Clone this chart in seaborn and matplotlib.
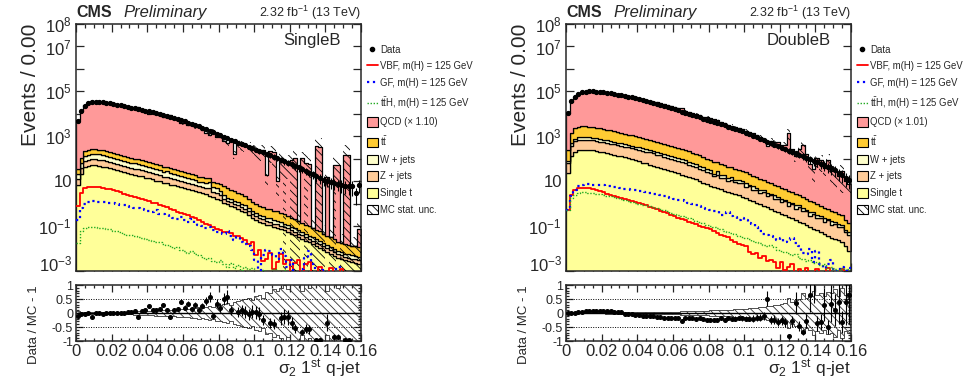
"""
Два распределения sigma_2 первой q-струи (SingleB / DoubleB):
стек фонов, сигналы, данные и отношение Data / MC - 1.
"""
import numpy as np
import pandas as pd
import matplotlib
matplotlib.use('Agg')  # без дисплея
import matplotlib.pyplot as plt
from matplotlib.lines import Line2D
from matplotlib.patches import Patch
from matplotlib.ticker import MultipleLocator, FixedLocator, FuncFormatter
import seaborn as sns

# Значения бинов записаны как log10(число событий), прочитаны с лог-оси; None - пустой бин
N_BINS = 80
X_MIN, X_MAX = 0.0, 0.16

# ---------------- SingleB ----------------
sb_data = [3.66, 4.12, 4.36, 4.47, 4.52, 4.53, 4.52, 4.51, 4.49, 4.46,
           4.44, 4.41, 4.38, 4.35, 4.31, 4.28, 4.25, 4.21, 4.18, 4.14,
           4.11, 4.07, 4.03, 3.99, 3.95, 3.91, 3.86, 3.81, 3.77, 3.72,
           3.66, 3.61, 3.56, 3.50, 3.44, 3.38, 3.31, 3.25, 3.18, 3.11,
           3.04, 2.97, 2.91, 2.85, 2.79, 2.72, 2.66, 2.60, 2.53, 2.47,
           2.41, 2.35, 2.28, 2.22, 2.16, 2.09, 2.03, 1.96, 1.89, 1.83,
           1.76, 1.69, 1.61, 1.54, 1.46, 1.38, 1.30, 1.22, 1.14, 1.07,
           1.02, 0.96, 0.92, 0.88, 0.84, 0.80, 0.77, 0.78, 0.48, 0.85]
sb_qcd = [3.70, 4.13, 4.38, 4.47, 4.59, 4.52, 4.52, 4.52, 4.48, 4.46,
          4.43, 4.41, 4.37, 4.34, 4.29, 4.26, 4.22, 4.28, 4.15, 4.10,
          4.01, 4.02, 3.99, 3.93, 3.84, 3.86, 3.93, 3.77, 3.71, 3.57,
          3.58, 3.48, 3.50, 3.39, 3.40, 3.28, 3.15, 3.05, 3.23, 2.98,
          2.96, 2.79, 2.71, 2.81, 2.20, 2.70, 2.62, 2.58, 2.55, 2.45,
          2.40, 2.36, 2.40, 1.25, 2.35, 2.30, 1.00, 2.05, 1.95, 1.90,
          1.95, 2.03, None, 2.03, 1.81, 1.75, None, 2.55, 2.50, None,
          1.20, None, 1.73, 1.70, None, 2.18, 2.15, None, None, -1.20]
sb_tt = [1.15, 1.65, 1.93, 2.00, 2.02, 2.02, 2.01, 1.97, 1.93, 1.89,
         1.85, 1.81, 1.77, 1.73, 1.69, 1.65, 1.61, 1.57, 1.53, 1.48,
         1.44, 1.40, 1.35, 1.31, 1.26, 1.22, 1.17, 1.13, 1.09, 1.04,
         1.00, 0.96, 0.91, 0.87, 0.82, 0.78, 0.73, 0.68, 0.60, 0.53,
         0.55, 0.55, 0.50, 0.40, 0.35, 0.25, 0.22, 0.10, 0.00, -0.15,
         -0.20, -0.30, -0.35, -0.45, -0.45, -0.55, -0.55, -0.60, -0.70, -0.75,
         -0.85, -0.90, -1.00, -1.05, -1.15, -1.20, -1.30, -1.40, -1.45, -1.55,
         -1.65, -1.70, -1.80, -1.90, -1.95, -2.00, -2.05, -2.10, -2.10, -2.15]
sb_wjets = [0.94, 1.44, 1.72, 1.79, 1.81, 1.81, 1.80, 1.76, 1.72, 1.68,
            1.64, 1.60, 1.56, 1.52, 1.48, 1.44, 1.40, 1.36, 1.32, 1.27,
            1.23, 1.19, 1.14, 1.10, 1.05, 1.12, 0.96, 0.92, 0.88, 0.83,
            0.79, 0.75, 0.70, 0.66, 0.50, 0.57, 0.52, 0.62, 0.39, 0.32,
            0.10, -0.15, -0.30, -0.30, -0.45, -0.50, -0.55, -0.65, -0.75, -0.85,
            -1.00, -1.00, -1.10, -1.20, -1.20, -1.30, -1.35, -1.35, -1.45, -1.50,
            -1.60, -1.65, -1.75, -1.80, -1.90, -2.00, -2.05, -2.15, -2.20, -2.30,
            -2.40, -2.50, -2.55, -2.65, -2.75, -2.80, -2.80, -2.85, -2.90, -2.90]
sb_zjets = [0.77, 1.27, 1.55, 1.62, 1.64, 1.64, 1.63, 1.59, 1.55, 1.51,
            1.47, 1.43, 1.39, 1.35, 1.31, 1.27, 1.23, 1.19, 1.15, 1.10,
            1.06, 1.02, 0.97, 0.98, 0.80, 0.84, 0.79, 0.75, 0.71, 0.66,
            0.62, 0.58, 0.53, 0.49, 0.44, 0.40, 0.35, 0.45, 0.10, 0.15,
            0.00, -0.25, -0.40, -0.42, -0.55, -0.55, -0.70, -0.70, -0.85, -1.00,
            -1.05, -1.20, -1.20, -1.30, -1.30, -1.45, -1.40, -1.50, -1.55, -1.60,
            -1.70, -1.75, -1.85, -1.90, -2.00, -2.10, -2.15, -2.25, -2.30, -2.40,
            -2.50, -2.55, -2.65, -2.75, -2.80, -2.90, -2.90, -2.95, -3.00, -3.00]
sb_singlet = [0.83, 1.33, 1.61, 1.68, 1.70, 1.70, 1.69, 1.65, 1.61, 1.57,
              1.53, 1.49, 1.45, 1.41, 1.37, 1.33, 1.29, 1.25, 1.21, 1.16,
              1.12, 1.08, 1.03, 0.99, 0.94, 0.90, 0.85, 0.81, 0.77, 0.72,
              0.68, 0.64, 0.59, 0.55, 0.50, 0.46, 0.41, 0.36, 0.28, 0.21,
              0.14, 0.04, -0.03, -0.10, -0.17, -0.24, -0.31, -0.39, -0.50, -0.63,
              -0.73, -0.80, -0.87, -0.93, -0.97, -1.03, -1.08, -1.13, -1.18, -1.25,
              -1.33, -1.41, -1.49, -1.57, -1.65, -1.73, -1.81, -1.89, -1.97, -2.05,
              -2.14, -2.23, -2.32, -2.41, -2.47, -2.53, -2.57, -2.61, -2.64, -2.67]
sb_vbf = [-0.09, 0.47, 0.68, 0.74, 0.75, 0.74, 0.72, 0.70, 0.67, 0.64,
          0.61, 0.57, 0.52, 0.45, 0.40, 0.36, 0.31, 0.26, 0.21, 0.16,
          0.12, 0.05, 0.02, -0.04, -0.10, -0.16, -0.22, -0.30, -0.38, -0.41,
          -0.45, -0.52, -0.58, -0.66, -0.72, -0.80, -0.90, -0.96, -1.02, -1.13,
          -1.18, -1.25, -1.25, -1.32, -1.42, -1.45, -1.55, -1.62, -1.78, -1.70,
          -2.30, -2.05, -2.55, -2.48, -2.20, -2.90, -2.60, -2.25, -2.70, -2.50,
          -3.30, -2.65, -2.50, -3.50, -2.70, -2.60, -3.30, None, -2.80, None,
          -3.30, -2.85, None, None, -2.90, None, None, None, None, None]
sb_gf = [-0.71, -0.19, 0.00, 0.08, 0.10, 0.10, 0.09, 0.08, 0.06, 0.04,
         0.02, 0.00, -0.04, -0.07, -0.10, -0.14, -0.18, -0.20, -0.26, -0.28,
         -0.33, -0.36, -0.30, -0.44, -0.48, -0.52, -0.58, -0.62, -0.68, -0.60,
         -0.75, -0.82, -0.70, -0.88, -0.95, -0.98, -1.08, -1.05, -1.18, -1.25,
         -1.30, -1.35, -1.20, -1.45, -1.60, -1.50, -1.72, -1.80, -1.90, -2.05,
         -2.50, -3.50, -2.30, -2.05, -2.10, -2.30, -2.45, -2.00, -2.35, -2.80,
         -2.50, None, -3.30, -2.90, -2.40, -2.10, -2.70, -3.40, None, -2.95,
         None, None, None, -2.80, None, None, None, None, None, None]
sb_tth = [-1.75, -1.23, -1.08, -1.04, -1.03, -1.05, -1.07, -1.10, -1.12, -1.15,
          -1.20, -1.22, -1.28, -1.33, -1.38, -1.40, -1.45, -1.50, -1.52, -1.58,
          -1.62, -1.65, -1.72, -1.70, -1.80, -1.85, -1.90, -1.98, -1.95, -2.05,
          -2.12, -2.18, -2.10, -2.25, -2.30, -2.38, -2.45, -2.40, -2.55, -2.60,
          -2.50, -2.70, -2.80, -2.65, -2.85, -2.75, -2.95, -2.80, -2.90, -2.85,
          None, None, -2.95, None, None, -2.90, None, None, -2.95, None,
          None, None, None, None, None, None, None, None, None, None,
          None, None, None, None, None, None, None, None, None, None]
# относительные ошибки данных и MC stat. unc.
sb_data_err = [0.04, 0.02, 0.015, 0.015, 0.015, 0.015, 0.015, 0.015, 0.015, 0.02,
               0.02, 0.02, 0.02, 0.025, 0.025, 0.025, 0.03, 0.03, 0.03, 0.035,
               0.035, 0.04, 0.04, 0.045, 0.045, 0.05, 0.05, 0.055, 0.06, 0.065,
               0.07, 0.075, 0.08, 0.085, 0.09, 0.095, 0.10, 0.11, 0.12, 0.13,
               0.13, 0.14, 0.15, 0.16, 0.17, 0.18, 0.19, 0.20, 0.21, 0.22,
               0.23, 0.24, 0.25, 0.26, 0.27, 0.28, 0.29, 0.30, 0.31, 0.32,
               0.33, 0.34, 0.35, 0.36, 0.37, 0.38, 0.40, 0.42, 0.44, 0.46,
               0.48, 0.50, 0.52, 0.54, 0.56, 0.58, 0.60, 0.62, 0.70, 0.60]
sb_mc_unc = [0.06, 0.04, 0.03, 0.03, 0.03, 0.03, 0.03, 0.03, 0.03, 0.03,
             0.04, 0.04, 0.04, 0.05, 0.05, 0.05, 0.06, 0.06, 0.07, 0.07,
             0.08, 0.08, 0.09, 0.10, 0.10, 0.11, 0.12, 0.12, 0.13, 0.14,
             0.15, 0.16, 0.17, 0.18, 0.20, 0.18, 0.22, 0.25, 0.22, 0.28,
             0.30, 0.32, 0.35, 0.30, 0.40, 0.42, 0.45, 0.50, 0.55, 0.45,
             0.60, 0.65, 0.55, 0.75, 0.70, 0.85, 0.80, 0.90, 1.00, 0.85,
             1.10, 1.30, 1.50, 0.80, 1.40, 0.90, 1.50, 1.80, 1.60, 1.50,
             0.80, 1.50, 1.60, 0.90, 1.50, 1.70, 1.60, 1.50, 1.50, 1.20]

# ---------------- DoubleB ----------------
db_data = [4.03, 4.55, 4.77, 4.89, 4.95, 4.98, 5.00, 5.00, 4.99, 4.98,
           4.96, 4.94, 4.92, 4.89, 4.86, 4.83, 4.80, 4.77, 4.74, 4.71,
           4.65, 4.61, 4.57, 4.53, 4.49, 4.45, 4.40, 4.35, 4.30, 4.25,
           4.20, 4.15, 4.10, 4.05, 4.00, 3.95, 3.90, 3.84, 3.78, 3.73,
           3.68, 3.63, 3.58, 3.53, 3.48, 3.43, 3.38, 3.33, 3.28, 3.22,
           3.16, 3.10, 3.03, 2.96, 2.89, 2.82, 2.75, 2.68, 2.61, 2.55,
           2.49, 2.43, 2.36, 2.30, 2.24, 2.18, 2.12, 2.05, 1.98, 1.92,
           1.85, 1.78, 1.72, 1.65, 1.58, 1.50, 1.35, 1.28, 1.15, 1.07]
db_qcd = [4.02, 4.53, 4.75, 4.86, 4.92, 4.94, 4.96, 4.96, 4.95, 4.94,
          4.92, 4.90, 4.88, 4.86, 4.83, 4.81, 4.80, 4.78, 4.75, 4.73,
          4.68, 4.66, 4.61, 4.57, 4.54, 4.51, 4.46, 4.43, 4.37, 4.33,
          4.28, 4.23, 4.24, 4.12, 4.07, 4.03, 3.99, 3.92, 3.87, 3.84,
          3.80, 3.75, 3.70, 3.61, 3.60, 3.50, 3.47, 3.42, 3.36, 3.30,
          3.25, 3.19, 3.12, 3.03, 2.96, 2.86, 2.56, 2.80, 2.72, 2.72,
          2.62, 2.60, 3.14, 2.45, 2.10, 2.45, 2.62, 2.20, 1.75, 1.55,
          2.05, 1.95, 1.60, 1.95, 1.45, 1.45, 1.20, 1.45, 1.00, 0.85]
db_tt = [2.22, 2.97, 3.19, 3.26, 3.27, 3.27, 3.26, 3.24, 3.21, 3.18,
         3.15, 3.12, 3.08, 3.05, 3.01, 2.97, 2.93, 2.89, 2.85, 2.81,
         2.77, 2.73, 2.69, 2.65, 2.60, 2.56, 2.52, 2.47, 2.43, 2.38,
         2.34, 2.29, 2.24, 2.19, 2.14, 2.09, 2.03, 1.96, 1.89, 1.82,
         1.73, 1.70, 1.64, 1.60, 1.54, 1.50, 1.44, 1.40, 1.34, 1.28,
         1.22, 1.16, 1.08, 1.02, 0.94, 0.88, 0.80, 0.74, 0.66, 0.60,
         0.52, 0.46, 0.38, 0.32, 0.24, 0.18, 0.10, 0.02, -0.06, -0.14,
         -0.22, -0.30, -0.38, -0.46, -0.54, -0.58, -0.62, -0.70, -0.90, -1.10]
db_wjets = [1.25, 2.05, 2.27, 2.33, 2.34, 2.34, 2.33, 2.31, 2.28, 2.25,
            2.22, 2.19, 2.15, 2.12, 2.08, 2.04, 2.00, 1.96, 1.92, 1.88,
            1.90, 1.86, 1.82, 1.78, 1.74, 1.70, 1.66, 1.62, 1.58, 1.52,
            1.48, 1.44, 1.38, 1.33, 1.28, 1.22, 1.16, 1.08, 1.00, 0.92,
            0.90, 0.55, 0.95, 0.60, 0.70, 0.45, 0.65, 0.30, 0.50, 0.20,
            0.35, 0.05, 0.25, -0.10, 0.10, -0.25, 0.00, -0.40, -0.15, -0.50,
            -0.30, -0.65, -0.40, -0.80, -0.55, -0.95, -0.70, -1.10, -0.85, -1.20,
            -1.00, -1.35, -1.10, -1.50, -1.30, -1.60, -1.45, -1.70, -1.80, -1.90]
db_zjets = [1.60, 2.38, 2.58, 2.64, 2.65, 2.65, 2.64, 2.62, 2.59, 2.56,
            2.54, 2.51, 2.48, 2.45, 2.42, 2.39, 2.36, 2.33, 2.30, 2.27,
            2.25, 2.21, 2.17, 2.13, 2.09, 2.04, 2.00, 1.95, 1.90, 1.86,
            1.80, 1.76, 1.70, 1.65, 1.60, 1.55, 1.49, 1.42, 1.35, 1.28,
            1.22, 1.05, 1.15, 1.00, 1.02, 0.85, 0.92, 0.80, 0.75, 0.80,
            0.60, 0.65, 0.45, 0.50, 0.30, 0.40, 0.15, 0.25, 0.05, 0.10,
            -0.10, 0.00, -0.25, -0.15, -0.40, -0.25, -0.50, -0.45, -0.70, -0.55,
            -0.80, -0.75, -0.95, -0.85, -1.10, -1.00, -1.20, -1.15, -1.40, -1.50]
db_singlet = [1.35, 2.10, 2.32, 2.39, 2.40, 2.40, 2.39, 2.37, 2.34, 2.31,
              2.28, 2.25, 2.21, 2.18, 2.14, 2.10, 2.06, 2.02, 1.98, 1.94,
              1.88, 1.83, 1.79, 1.74, 1.69, 1.64, 1.60, 1.55, 1.50, 1.45,
              1.40, 1.35, 1.29, 1.24, 1.19, 1.14, 1.08, 1.01, 0.94, 0.86,
              0.78, 0.73, 0.68, 0.63, 0.57, 0.52, 0.47, 0.42, 0.37, 0.31,
              0.25, 0.18, 0.11, 0.04, -0.03, -0.10, -0.17, -0.24, -0.31, -0.38,
              -0.45, -0.52, -0.59, -0.66, -0.73, -0.80, -0.87, -0.95, -1.03, -1.11,
              -1.19, -1.27, -1.35, -1.43, -1.51, -1.58, -1.62, -1.70, -1.90, -2.10]
db_vbf = [-0.27, 0.40, 0.62, 0.70, 0.71, 0.70, 0.68, 0.65, 0.62, 0.58,
          0.50, 0.45, 0.40, 0.34, 0.28, 0.24, 0.20, 0.15, 0.11, 0.06,
          0.02, -0.03, -0.08, -0.13, -0.19, -0.25, -0.31, -0.38, -0.42, -0.50,
          -0.55, -0.62, -0.68, -0.74, -0.80, -0.86, -0.92, -0.98, -1.05, -1.10,
          -1.15, -1.22, -1.30, -1.38, -1.45, -1.48, -1.60, -1.70, -1.80, -1.85,
          -1.90, -2.15, -2.25, -2.20, -2.40, -2.35, -2.55, -2.50, -2.60, -2.85,
          -2.60, -2.95, -2.80, -2.70, -3.40, -2.90, None, -2.85, None, -3.50,
          -2.90, None, None, -2.85, None, None, None, -2.90, None, None]
db_gf = [-0.27, 0.33, 0.62, 0.80, 0.84, 0.86, 0.86, 0.85, 0.84, 0.83,
         0.81, 0.79, 0.77, 0.75, 0.72, 0.70, 0.67, 0.64, 0.62, 0.60,
         0.57, 0.55, 0.52, 0.48, 0.45, 0.42, 0.38, 0.34, 0.30, 0.27,
         0.22, 0.18, 0.14, 0.10, 0.05, 0.00, -0.05, -0.12, -0.18, -0.25,
         -0.30, -0.33, -0.35, -0.50, -0.52, -0.38, -0.55, -0.60, -0.72, -0.65,
         -0.75, -0.85, -0.90, -1.05, -1.20, -1.35, -1.40, -1.45, -1.48, -1.60,
         -1.55, -1.70, -1.60, -1.55, -1.75, -1.90, -2.20, -2.25, -2.00, -2.60,
         -2.10, -2.70, -3.40, -2.70, -2.50, -2.90, None, -2.80, -3.50, -2.85]
db_tth = [-0.27, 0.25, 0.40, 0.47, 0.50, 0.50, 0.49, 0.47, 0.45, 0.42,
          0.39, 0.36, 0.32, 0.28, 0.24, 0.20, 0.16, 0.12, 0.08, 0.04,
          0.00, -0.04, -0.08, -0.12, -0.16, -0.20, -0.25, -0.30, -0.35, -0.40,
          -0.44, -0.49, -0.54, -0.59, -0.64, -0.70, -0.76, -0.82, -0.88, -0.95,
          -1.00, -1.05, -1.10, -1.15, -1.20, -1.25, -1.30, -1.35, -1.42, -1.48,
          -1.52, -1.58, -1.65, -1.70, -1.75, -1.82, -1.88, -1.85, -1.95, -2.05,
          -2.10, -2.15, -2.20, -2.30, -2.25, -2.40, -2.45, -2.55, -2.50, -2.65,
          -2.60, -2.75, -2.70, -2.85, -2.80, -2.90, -2.95, -2.85, None, -2.90]
db_data_err = [0.02, 0.01, 0.01, 0.01, 0.01, 0.01, 0.01, 0.01, 0.01, 0.01,
               0.01, 0.01, 0.012, 0.012, 0.012, 0.014, 0.014, 0.015, 0.016, 0.017,
               0.018, 0.019, 0.02, 0.021, 0.022, 0.024, 0.026, 0.028, 0.03, 0.032,
               0.034, 0.036, 0.038, 0.04, 0.043, 0.046, 0.05, 0.053, 0.056, 0.06,
               0.063, 0.066, 0.07, 0.075, 0.08, 0.085, 0.09, 0.095, 0.10, 0.11,
               0.12, 0.13, 0.14, 0.15, 0.16, 0.17, 0.18, 0.19, 0.20, 0.21,
               0.22, 0.24, 0.26, 0.28, 0.30, 0.32, 0.34, 0.36, 0.38, 0.40,
               0.42, 0.44, 0.46, 0.48, 0.50, 0.52, 0.55, 0.58, 0.60, 0.62]
db_mc_unc = [0.04, 0.02, 0.015, 0.015, 0.015, 0.015, 0.015, 0.015, 0.015, 0.015,
             0.015, 0.02, 0.02, 0.02, 0.02, 0.02, 0.02, 0.025, 0.025, 0.025,
             0.03, 0.03, 0.03, 0.035, 0.035, 0.04, 0.04, 0.04, 0.045, 0.05,
             0.05, 0.05, 0.06, 0.06, 0.065, 0.07, 0.07, 0.075, 0.08, 0.085,
             0.09, 0.09, 0.10, 0.10, 0.11, 0.12, 0.12, 0.13, 0.14, 0.15,
             0.16, 0.17, 0.18, 0.19, 0.20, 0.22, 0.24, 0.26, 0.28, 0.30,
             0.33, 0.36, 0.55, 0.40, 0.45, 0.50, 0.70, 0.55, 0.60, 0.80,
             0.65, 0.70, 0.60, 0.75, 0.70, 0.85, 0.60, 0.90, 0.65, 0.70]

PROCS = ['QCD', 'ttbar', 'W + jets', 'Z + jets', 'Single t']
COLORS = {'QCD': '#ff9999', 'ttbar': '#ffcc33', 'W + jets': '#ffffcc',
          'Z + jets': '#ffcc99', 'Single t': '#ffff99'}

sns.set_style('ticks')
plt.rcParams['font.family'] = ['Liberation Sans', 'DejaVu Sans']
plt.rcParams['mathtext.fontset'] = 'custom'
plt.rcParams['mathtext.rm'] = 'Liberation Sans'
plt.rcParams['mathtext.it'] = 'Liberation Sans:italic'
plt.rcParams['mathtext.bf'] = 'Liberation Sans:bold'
plt.rcParams['mathtext.default'] = 'regular'
plt.rcParams['hatch.linewidth'] = 0.6
plt.rcParams['axes.linewidth'] = 1.1

edges = np.linspace(X_MIN, X_MAX, N_BINS + 1)
centers = 0.5 * (edges[:-1] + edges[1:])
bin_list = edges.tolist()


def lin(vals):
    # log10 -> число событий, пустые бины -> 0
    return np.array([0.0 if v is None else 10.0 ** v for v in vals])


def ext(a):
    return np.append(a, a[-1])


Y_LABELS = {8: '$10^{8}$', 7: '$10^{7}$', 5: '$10^{5}$', 3: '$10^{3}$',
            1: '10', -1: '$10^{-1}$', -3: '$10^{-3}$'}


def style_axes(ax):
    ax.tick_params(which='both', direction='in', top=True, right=True, width=0.9)
    ax.tick_params(which='major', length=6)
    ax.tick_params(which='minor', length=3)
    ax.xaxis.set_major_locator(MultipleLocator(0.02))
    ax.xaxis.set_minor_locator(MultipleLocator(0.005))
    ax.set_xlim(X_MIN, X_MAX)


def draw_panel(ax, rax, data, qcd, tt, wjets, zjets, singlet, vbf, gf, tth,
               data_err, mc_unc, qcd_label, region):
    comps = [lin(qcd), lin(tt), lin(wjets), lin(zjets), lin(singlet)]
    stack = pd.DataFrame({'x': np.tile(centers, len(PROCS)),
                          'w': np.concatenate(comps),
                          'proc': np.repeat(PROCS, N_BINS)})
    sns.histplot(data=stack, x='x', weights='w', hue='proc', hue_order=PROCS,
                 multiple='stack', bins=bin_list, element='step', palette=COLORS,
                 edgecolor='black', linewidth=0.9, alpha=1, legend=False, ax=ax)

    total = np.sum(comps, axis=0)
    unc = np.array(mc_unc)
    lo = np.clip(total * (1 - unc), 1e-6, None)
    hi = total * (1 + unc)
    ax.fill_between(edges, ext(lo), ext(hi), step='post', facecolor='none',
                    edgecolor='black', hatch='\\\\\\\\', linewidth=0, zorder=3)

    for vals, col, ls, lw in [(vbf, 'red', '-', 1.3), (gf, 'blue', ':', 1.6),
                              (tth, '#22aa22', (0, (1, 1.2)), 1.0)]:
        sig = pd.DataFrame({'x': centers, 'w': lin(vals)})
        sns.histplot(data=sig, x='x', weights='w', bins=bin_list, element='step',
                     fill=False, color=col, linestyle=ls, linewidth=lw, ax=ax,
                     zorder=4)

    counts = lin(data)
    derr = np.array(data_err)
    has = counts > 0
    ax.errorbar(centers[has], counts[has], yerr=(derr * counts)[has], fmt='o',
                ms=2.8, color='black', elinewidth=0.8, capsize=0, zorder=5)

    ax.set_yscale('log')
    ax.set_ylim(1e-3, 1e8)
    style_axes(ax)
    ax.yaxis.set_major_locator(FixedLocator(10.0 ** np.arange(-3, 9)))
    ax.yaxis.set_minor_locator(FixedLocator([]))
    ax.yaxis.set_major_formatter(
        FuncFormatter(lambda v, p: Y_LABELS.get(int(round(np.log10(v))), '')))
    ax.tick_params(axis='y', labelsize=12, pad=3)
    ax.tick_params(axis='x', labelbottom=False)
    # нижнюю подпись 10^-3 чуть приподнимаем, чтобы не налезала на шкалу отношения
    ax.yaxis.get_major_ticks()[0].label1.set_va('baseline')
    ax.set_xlabel('')
    ax.set_ylabel('Events / 0.00', fontsize=15, loc='top')
    ax.yaxis.set_label_coords(-0.125, 1.0)
    ax.text(0.93, 0.965, region, transform=ax.transAxes, ha='right', va='top',
            fontsize=12)

    # отношение Data / MC - 1
    rax.fill_between(edges, ext(-unc), ext(unc), step='post', facecolor='none',
                     edgecolor='0.2', hatch='\\\\\\\\', linewidth=0.6)
    rax.axhline(0, color='black', lw=1.0)
    for yv in (0.5, -0.5):
        rax.axhline(yv, color='black', lw=0.7, ls=(0, (1, 1.5)))
    ok = has & (total > 0)
    ratio = counts[ok] / total[ok] - 1
    rerr = derr[ok] * (ratio + 1)
    rax.errorbar(centers[ok], ratio, yerr=rerr, fmt='o', ms=2.6, color='black',
                 elinewidth=0.8, capsize=0, zorder=5)
    rax.set_ylim(-1, 1)
    style_axes(rax)
    rax.yaxis.set_major_locator(FixedLocator([-1, -0.5, 0, 0.5, 1]))
    rax.yaxis.set_major_formatter(FuncFormatter(lambda v, p: f'{v:g}'))
    rax.yaxis.set_minor_locator(MultipleLocator(0.1))
    rax.tick_params(which='major', length=5)
    rax.tick_params(which='minor', length=2.5)
    rax.tick_params(axis='y', labelsize=9, pad=2)
    rax.tick_params(axis='x', labelsize=12, pad=2)
    rax.xaxis.set_major_formatter(FuncFormatter(lambda v, p: f'{v:g}'))
    rax.set_ylabel('Data / MC - 1', fontsize=9.5, loc='top')
    rax.yaxis.set_label_coords(-0.125, 1.0)
    rax.set_xlabel('σ$_{2}$ 1$^{st}$ q-jet', fontsize=12.5, loc='right')
    rax.xaxis.set_label_coords(1.0, -0.30)

    handles = [
        Line2D([], [], marker='o', ms=3, color='black', ls='none'),
        Line2D([], [], color='red', lw=1.3),
        Line2D([], [], color='blue', lw=1.6, ls=':'),
        Line2D([], [], color='#22aa22', lw=1.0, ls=(0, (1, 1.2))),
    ] + [Patch(facecolor=COLORS[p], edgecolor='black', lw=0.8) for p in PROCS] + [
        Patch(facecolor='white', edgecolor='black', hatch='\\\\\\\\', lw=0.8)]
    labels = ['Data', 'VBF, m(H) = 125 GeV', 'GF, m(H) = 125 GeV',
              't$\\bar{t}$H, m(H) = 125 GeV', qcd_label, 't$\\bar{t}$',
              'W + jets', 'Z + jets', 'Single t', 'MC stat. unc.']
    ax.legend(handles, labels, loc='upper left', bbox_to_anchor=(1.02, 0.917),
              frameon=False, fontsize=6.9, handlelength=1.15, handleheight=1.15,
              handletextpad=0.25, labelspacing=0.70, borderaxespad=0,
              borderpad=0)


fig = plt.figure(figsize=(9.69, 3.81), dpi=100)
W, H = 969, 381
panels = [
    (76, sb_data, sb_qcd, sb_tt, sb_wjets, sb_zjets, sb_singlet, sb_vbf, sb_gf,
     sb_tth, sb_data_err, sb_mc_unc, 'QCD (× 1.10)', 'SingleB'),
    (566, db_data, db_qcd, db_tt, db_wjets, db_zjets, db_singlet, db_vbf, db_gf,
     db_tth, db_data_err, db_mc_unc, 'QCD (× 1.01)', 'DoubleB'),
]
for left, *vals in panels:
    ax = fig.add_axes([left / W, 1 - 271 / H, 285 / W, 247 / H])
    rax = fig.add_axes([left / W, 1 - 341 / H, 285 / W, 56 / H])
    draw_panel(ax, rax, *vals)
    fig.text(left / W, 1 - 17 / H, 'CMS', fontsize=11.5, fontweight='bold',
             va='baseline')
    fig.text((left + 47) / W, 1 - 17 / H, 'Preliminary', fontsize=12,
             style='italic', va='baseline')
    fig.text((left + 285) / W, 1 - 17 / H, '2.32 fb$^{-1}$ (13 TeV)',
             fontsize=9, ha='right', va='baseline')

fig.savefig('out.png', dpi=100)
